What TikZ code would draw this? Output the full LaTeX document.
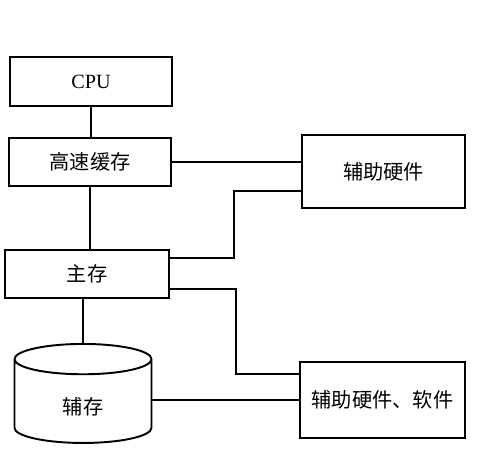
\documentclass[tikz,border=0pt]{standalone}
\usepackage{fontspec}
\setmainfont{Liberation Serif}
\newfontfamily\cjk{Noto Sans CJK SC}
\usetikzlibrary{shapes.geometric}
\tikzset{box/.style={
    draw, line width=1.1pt,
    minimum width=3.26cm, minimum height=.96cm,
    inner sep=0pt, font=\fontsize{11.5}{13}\selectfont\cjk
  },
  store/.style={
    cylinder, shape border rotate=90, draw, line width=1.1pt,
    minimum width=2.74cm, minimum height=1.98cm, aspect=.75,
    inner sep=0pt, font=\fontsize{11.5}{13}\selectfont\cjk
  },
  link/.style={line width=1.1pt}
}

\begin{document}
\begin{tikzpicture}
    \useasboundingbox (0,0) rectangle (10,-9.46);

    \node[box,minimum width=3.24cm,minimum height=.98cm,font=\fontsize{11.5}{13}\selectfont] (cpu) at (1.82,-1.63) {CPU};
    \node[box,minimum width=3.24cm] (cache) at (1.80,-3.24) {高速缓存};
    \node[box,minimum width=3.28cm] (main) at (1.74,-5.48) {主存};
    \node[store] (disk) at (1.66,-8.03) {\raisebox{-.26cm}[0pt][0pt]{辅存}};
    \node[box,minimum height=1.46cm] (hw) at (7.67,-3.43) {辅助硬件};
    \node[box,minimum width=3.3cm,minimum height=1.52cm] (hwsw) at (7.65,-8.0) {辅助硬件、软件};

    \draw[link] (cpu.south) -- (cpu.south |- cache.north);
    \draw[link] (cache.south) -- (cache.south |- main.north);
    \draw[link] (main.south -| disk.north) -- (disk.north);
    \draw[link] (cache.east) -- (cache.east -| hw.west);
    \draw[link] ([yshift=.32cm]main.east) -- ++(1.28,0) |- ([yshift=-.39cm]hw.west);
    \draw[link] ([yshift=-.3cm]main.east) -- ++(1.32,0) |- ([yshift=.52cm]hwsw.west);
    \draw[link] (hwsw.west -| disk.east) -- (hwsw.west);
\end{tikzpicture}
\end{document}
